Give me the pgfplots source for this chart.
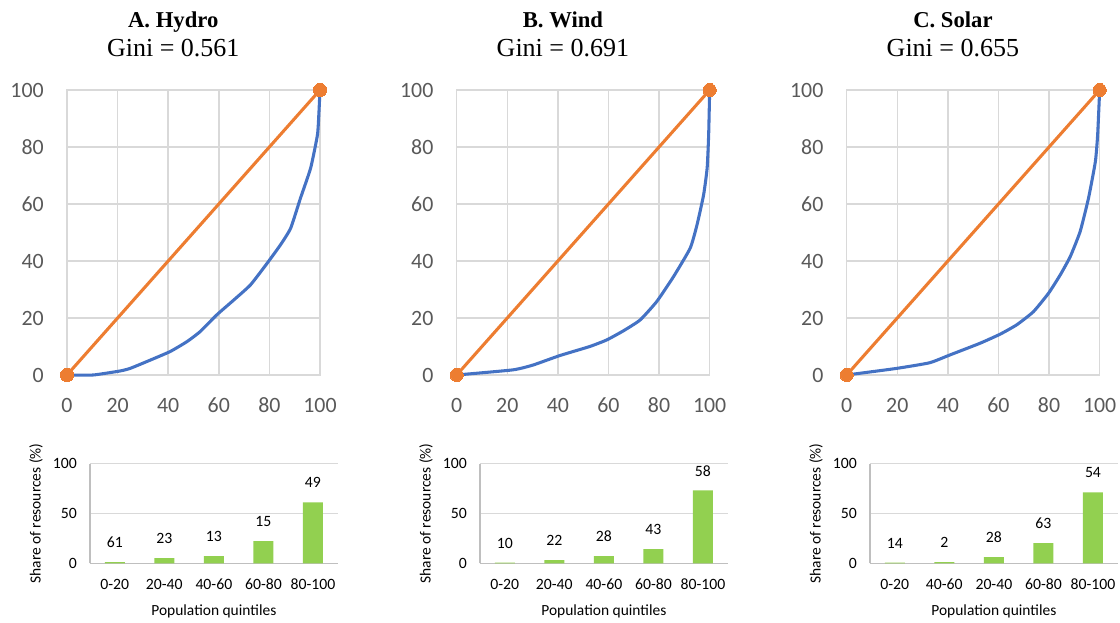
\documentclass[border=0pt]{standalone}
\usepackage{pgfplots}
\pgfplotsset{compat=1.18}
\usepackage{fontspec}
\setmainfont{Carlito}
\newfontfamily\serif{Liberation Serif}
\definecolor{lblue}{HTML}{4472C4}
\definecolor{lorange}{HTML}{ED7D31}
\definecolor{bgreen}{HTML}{92D050}
\definecolor{gridc}{HTML}{D9D9D9}
\definecolor{axc}{HTML}{BFBFBF}
\definecolor{tickc}{HTML}{595959}
\pgfplotsset{
  lorenz/.style={scale only axis, width=189.75pt, height=213.75pt, anchor=south west, clip=false,
    xmin=0,xmax=100,ymin=0,ymax=100, xtick={0,20,...,100}, ytick={0,20,...,100},
    grid=major, major grid style={draw=gridc, line width=1.1pt},
    axis line style={draw=gridc, line width=1.1pt}, major tick length=0pt,
    tick label style={font=\fontsize{16.4}{18}\selectfont, text=tickc, /pgf/number format/assume math mode=true},
    xticklabel style={anchor=center, inner sep=0pt, yshift=-22.5pt},
    yticklabel style={anchor=east, inner sep=0pt, xshift=-17.25pt}},
  barax/.style={scale only axis, width=185.8pt, height=74.7pt, anchor=south west, clip=false,
    xmin=-0.5,xmax=4.5, ymin=0,ymax=100, ytick={0,50,100}, xtick={0,...,4},
    ymajorgrids, major grid style={draw=gridc, line width=0.8pt},
    axis x line*=bottom, axis y line*=left, axis line style={-, draw=axc, line width=0.8pt},
    major tick length=0pt,
    tick label style={font=\fontsize{11.8}{14}\selectfont, /pgf/number format/assume math mode=true},
    xticklabel style={anchor=center, inner sep=0pt, yshift=-15.75pt},
    yticklabel style={anchor=east, inner sep=0pt, xshift=-9.75pt},
    xlabel={Population quintiles}, ylabel={Share of resources (\%)},
    every axis x label/.style={at={(axis description cs:0.5,0)}, yshift=-35.8pt, anchor=center, inner sep=0pt, font=\fontsize{11.6}{14}\selectfont},
    every axis y label/.style={at={(axis description cs:0,0.5)}, xshift=-40.5pt, rotate=90, anchor=center, inner sep=0pt, font=\fontsize{11.6}{14}\selectfont}},
  bl/.style={color=lblue, line width=2.3pt, line join=round, smooth, tension=0.3},
  ol/.style={color=lorange, line width=2.3pt, mark=*, mark size=4.9pt, mark options={fill=lorange, draw=lorange, line width=0pt}},
  gbar/.style={ybar, fill=bgreen, draw=none, bar width=15pt, point meta=explicit symbolic, nodes near coords,
    every node near coord/.append style={anchor=center, yshift=14.6pt, font=\fontsize{11.8}{14}\selectfont}}
}
\newcommand{\ttl}[2]{%
  \node[anchor=base, inner sep=0pt, font=\serif\bfseries\fontsize{17}{20}\selectfont] at (rel axis cs:0.42,1) [yshift=47pt] {#1};
  \node[anchor=base, inner sep=0pt, font=\serif\fontsize{19.5}{24}\selectfont] at (rel axis cs:0.42,1) [yshift=25pt] {#2};}
\begin{document}
\begin{tikzpicture}
\path[use as bounding box] (0,0) rectangle (840pt,466.5pt);
% ---------- Lorenz A
\begin{axis}[lorenz, at={(50.25pt,185.25pt)}]
\addplot[bl] coordinates {(0,0) (10.3,0) (20.9,1.4) (24.9,2.3) (31.5,4.7) (40.7,8.2) (47.4,11.7) (52.6,15.2) (59.2,21.1) (65.9,26.3) (72.5,31.6) (79.1,39.2) (84.4,45.7) (88.4,51.5) (92.3,62.1) (96.3,72.6) (99.0,84.3) (99.6,92.5) (100,100)};
\addplot[ol] coordinates {(0,0) (100,100)};
\ttl{A. Hydro}{Gini = 0.561}
\end{axis}
% ---------- Lorenz B
\begin{axis}[lorenz, at={(342.5pt,185.25pt)}]
\addplot[bl] coordinates {(0,0) (22.2,1.8) (30.2,3.5) (40.7,6.8) (52.6,10) (59.3,12.3) (65.9,15.5) (72.5,19.3) (79.1,25.8) (85.7,34.5) (92.3,44.5) (95.0,52.7) (97.6,63.2) (99.0,72.6) (99.6,84.3) (100,100)};
\addplot[ol] coordinates {(0,0) (100,100)};
\ttl{B. Wind}{Gini = 0.691}
\end{axis}
% ---------- Lorenz C
\begin{axis}[lorenz, at={(635pt,185.25pt)}]
\addplot[bl] coordinates {(0,0) (19.6,2.3) (32.8,4.3) (40.7,7) (52.6,11.1) (60.6,14.3) (67.2,17.6) (73.8,22.2) (79.8,28.7) (84.4,35.1) (88.4,41.6) (92.3,50.4) (95.6,62.1) (98.3,74.9) (99.2,84.3) (100,100)};
\addplot[ol] coordinates {(0,0) (100,100)};
\ttl{C. Solar}{Gini = 0.655}
\end{axis}
% ---------- Bars A
\begin{axis}[barax, at={(67.5pt,44pt)}, xticklabels={0-20,20-40,40-60,60-80,80-100}]
\addplot[gbar] coordinates {(0,1.3) [61] (1,5.3) [23] (2,7.3) [13] (3,22.3) [15] (4,61.3) [49]};
\end{axis}
% ---------- Bars B
\begin{axis}[barax, at={(360pt,44pt)}, xticklabels={0-20,20-40,40-60,60-80,80-100}]
\addplot[gbar] coordinates {(0,0.7) [10] (1,3.3) [22] (2,7.3) [28] (3,14.3) [43] (4,73.3) [58]};
\end{axis}
% ---------- Bars C
\begin{axis}[barax, at={(652.5pt,44pt)}, xticklabels={0-20,40-60,20-40,60-80,80-100}]
\addplot[gbar] coordinates {(0,0.6) [14] (1,1.3) [2] (2,6.3) [28] (3,20.3) [63] (4,71.3) [54]};
\end{axis}
\end{tikzpicture}
\end{document}
